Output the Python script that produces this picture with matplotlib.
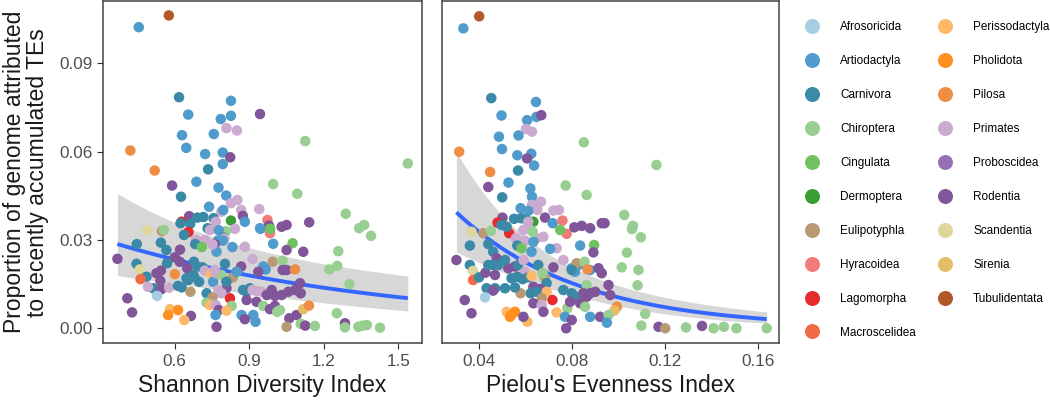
import numpy as np
import matplotlib
matplotlib.use("Agg")
import matplotlib.pyplot as plt
from matplotlib.lines import Line2D

plt.rcParams["font.family"]=["Liberation Sans","DejaVu Sans"]

ORDERS=["Afrosoricida","Artiodactyla","Carnivora","Chiroptera","Cingulata","Dermoptera","Eulipotyphla",
        "Hyracoidea","Lagomorpha","Macroscelidea","Perissodactyla","Pholidota","Pilosa","Primates",
        "Proboscidea","Rodentia","Scandentia","Sirenia","Tubulidentata"]
COLORS=["#A6CEE3","#4F9BCB","#3A89A6","#98CE91","#72C161","#3A9E34","#B89A72","#F27A7B","#E52B2C",
        "#F06A44","#FDB86A","#FF8F1E","#EE8E45","#CBABCF","#9670B4","#805599","#DFD69B","#E4BE66","#B15928"]
CMAP={o[:3]:c for o,c in zip(ORDERS,COLORS)}

# ---- left panel: Shannon diversity index vs proportion of genome (order = first 3 letters)
sh_x=[.455,.576,.617,.826,.654,.943,.785,.826,.808,.850,.629,.757,1.125,.421,.646,.722,.793,.823,1.538,.519,
      .793,.734,.589,.687,.996,.776,1.093,.625,.807,.852,.826,.738,.867,.940,.787,.795,.874,.658,.691,.715,
      .756,.826,.765,.627,.882,.662,.623,.945,.732,.742,.842,.806,.777,.490,.548,.556,.655,.637,.797,.800,
      .685,.721,.682,.447,.773,.793,.709,.882,.832,.621,.566,.761,.973,.979,.983,.984,.943,1.030,1.050,1.141,
      1.288,1.342,1.362,1.390,.544,.768,.752,1.074,.996,1.050,1.117,1.258,.600,.369,.913,.994,1.034,.446,.569,.620,
      .677,.690,.650,.802,.867,.956,.966,.936,1.034,1.050,1.084,1.222,1.254,1.303,.459,.526,.544,.600,.486,.462,
      .513,.492,.542,.546,.577,.613,.628,.647,.663,.678,.698,.712,.721,.745,.754,.768,.788,.833,.808,.775,
      .788,.728,.752,.822,.728,.741,.765,.829,.777,.808,.764,.875,.889,.902,.913,.929,.950,.889,.929,.970,
      .990,1.003,1.030,1.057,1.084,1.107,1.104,.956,.983,1.003,1.012,1.023,.869,.916,.925,.882,1.061,1.090,1.117,1.140,
      1.107,1.125,1.050,1.164,1.252,1.285,1.285,1.339,1.357,1.373,1.426,.768,.665,.638,.580,.573,.613,.428,.409,.529,
      .808,.849,.654,.674,.761]
sh_y=[.1023,.1063,.0785,.0773,.0726,.0728,.0711,.0722,.0680,.0672,.0656,.0660,.0636,.0604,.0613,.0592,.0597,.0581,.0560,.0536,
      .0558,.0540,.0485,.0498,.0490,.0478,.0457,.0447,.0451,.0436,.0425,.0413,.0402,.0405,.0396,.0402,.0382,.0381,.0376,.0378,
      .0374,.0366,.0362,.0362,.0362,.0355,.0357,.0338,.0340,.0334,.0338,.0330,.0333,.0333,.0330,.0334,.0327,.0317,.0308,.0305,
      .0300,.0300,.0286,.0286,.0298,.0298,.0276,.0277,.0276,.0267,.0266,.0286,.0368,.0349,.0323,.0338,.0340,.0345,.0351,.0360,
      .0389,.0340,.0351,.0314,.0291,.0260,.0285,.0289,.0287,.0266,.0260,.0262,.0241,.0236,.0235,.0226,.0230,.0219,.0221,.0226,
      .0226,.0210,.0204,.0219,.0210,.0210,.0200,.0192,.0198,.0198,.0200,.0200,.0212,.0150,.0200,.0187,.0196,.0184,.0175,.0167,
      .0136,.0141,.0161,.0133,.0138,.0144,.0139,.0170,.0124,.0175,.0158,.0207,.0196,.0185,.0158,.0187,.0181,.0173,.0136,.0130,
      .0119,.0119,.0105,.0102,.0087,.0079,.0079,.0076,.0062,.0060,.0045,.0130,.0124,.0136,.0130,.0127,.0124,.0096,.0090,.0113,
      .0130,.0110,.0113,.0124,.0130,.0119,.0153,.0076,.0065,.0076,.0056,.0062,.0045,.0045,.0022,.0031,.0034,.0045,.0065,.0077,
      .0015,.0009,.0005,.0008,.0051,.0017,.0003,.0005,.0009,.0011,.0002,.0005,.0042,.0028,.0065,.0045,.0062,.0054,.0102,.0110,
      .0158,.0192,.0164,.0181,.0198]
sh_o=("Art Tub Car Art Art Rod Art Art Pri Pri Art Art Chi Pil Art Art Art Rod Chi Pil "
      "Art Car Rod Art Chi Art Chi Car Art Pri Pri Art Pri Pri Pri Art Rod Rod Car Car "
      "Car Der Pri Lag Art Car Car Art Car Pri Pri Chi Art Sca Eul Chi Lag Car Car Pri "
      "Pri Pri Car Car Art Art Cin Pri Art Rod Car Rod Hyr Rod Hyr Cin Art Rod Rod Rod "
      "Chi Chi Chi Chi Car Art Pri Cin Art Rod Rod Chi Rod Rod Pri Eul Chi Car Car Rod "
      "Car Car Rod Car Rod Art Art Rod Rod Rod Pil Chi Chi Chi Sca Rod Rod Pil Car Mac "
      "Car Pri Rod Rod Pri Car Car Car Eul Car Car Car Pri Per Art Pri Chi Eul Rod Pri "
      "Pri Car Eul Lag Chi Per Pri Chi Rod Per Art Car Car Car Pri Pri Pri Rod Rod Rod "
      "Rod Rod Rod Rod Rod Rod Rod Chi Rod Rod Chi Chi Art Art Art Rod Rod Rod Sir Pil "
      "Chi Rod Eul Chi Chi Rod Chi Chi Chi Chi Chi Rod Rod Per Per Pho Pho Rod Rod Afr "
      "Car Art Car Car Pri").split()

# ---- right panel: Pielou's evenness index vs proportion of genome
pi_x=[.0332,.0400,.0452,.0644,.0496,.0606,.0646,.0667,.0601,.0627,.0485,.0569,.0850,.0314,.0498,.0564,.0624,.0606,.1162,.0636,
      .0567,.0447,.0439,.0526,.0772,.0620,.0862,.0499,.0627,.0627,.0666,.0650,.0719,.0743,.0578,.0611,.0683,.0500,.0550,.0580,
      .0604,.0479,.0529,.0633,.0611,.0621,.0590,.0716,.0758,.0776,.0748,.0809,.0841,.0877,.0927,.0496,.0518,.0367,.0417,.0450,
      .0558,.0597,.0647,.0676,.0633,.0625,.0564,.0630,.0360,.0439,.0582,.0733,.0705,.0834,.0894,.0891,.0302,.0460,.0475,.0360,
      .0374,.0374,.0399,.0427,.0468,.0439,.0460,.0482,.0525,.0554,.0511,.0568,.0590,.0597,.0539,.0564,.0587,.0611,.0654,.0625,
      .0676,.0683,.0673,.0719,.0690,.0633,.0662,.0647,.0621,.0690,.0578,.0669,.0715,.0633,.0669,.0676,.0733,.0779,.0769,.0798,
      .0774,.0468,.0511,.0554,.0432,.0460,.0425,.0338,.0367,.0518,.0539,.0554,.0532,.0607,.0590,.0762,.0798,.0819,.0791,.0834,
      .0798,.0812,.0827,.0877,.0819,.0853,.0865,.0913,.0927,.0862,.0848,.0877,.0899,.0862,.0855,.0877,.0920,.0762,.0939,.1024,
      .1061,.1057,.1095,.1035,.1013,.1085,.1081,.0956,.0963,.0992,.0981,.0956,.0949,.1114,.1097,.1171,.1200,.1289,.1358,.1408,
      .1452,.1506,.1636,.0798]
pi_y=[.1019,.1060,.0782,.0769,.0723,.0707,.0718,.0724,.0677,.0668,.0651,.0655,.0632,.0600,.0609,.0588,.0593,.0577,.0555,.0553,
      .0536,.0531,.0480,.0495,.0485,.0475,.0453,.0445,.0447,.0419,.0430,.0402,.0400,.0402,.0408,.0399,.0376,.0376,.0372,.0374,
      .0368,.0359,.0323,.0362,.0362,.0334,.0334,.0357,.0366,.0321,.0334,.0343,.0348,.0340,.0357,.0351,.0345,.0328,.0323,.0331,
      .0306,.0298,.0306,.0311,.0294,.0260,.0281,.0328,.0281,.0286,.0272,.0272,.0270,.0281,.0283,.0258,.0232,.0260,.0238,.0215,
      .0195,.0164,.0173,.0189,.0181,.0215,.0215,.0215,.0204,.0210,.0232,.0215,.0232,.0192,.0170,.0175,.0167,.0173,.0215,.0178,
      .0178,.0172,.0187,.0207,.0153,.0141,.0133,.0124,.0119,.0124,.0119,.0102,.0096,.0085,.0079,.0056,.0054,.0068,.0039,.0028,
      .0000,.0136,.0136,.0139,.0136,.0128,.0105,.0096,.0051,.0056,.0045,.0056,.0039,.0022,.0039,.0130,.0119,.0107,.0090,.0085,
      .0204,.0192,.0215,.0198,.0221,.0226,.0200,.0204,.0187,.0147,.0119,.0119,.0124,.0107,.0073,.0039,.0039,.0232,.0357,.0385,
      .0348,.0337,.0309,.0257,.0207,.0198,.0146,.0147,.0113,.0073,.0060,.0045,.0019,.0049,.0009,.0005,.0000,.0003,.0008,.0000,
      .0005,.0000,.0000,.0198]
pi_o=("Art Tub Car Art Art Art Art Rod Pri Pri Art Art Chi Pil Art Art Art Rod Chi Art "
      "Car Pil Rod Art Chi Art Chi Car Art Pri Pri Pri Pri Pri Art Art Rod Rod Car Car "
      "Car Lag Lag Der Pri Pri Pri Art Hyr Hyr Cin Rod Rod Rod Rod Car Car Sca Eul Chi "
      "Pri Pri Pri Pri Art Art Car Chi Car Car Cin Pri Art Art Cin Rod Rod Car Rod Car "
      "Sca Mac Car Rod Rod Car Car Car Rod Rod Car Car Pri Pri Car Car Car Car Car Per "
      "Per Eul Chi Rod Car Rod Rod Car Car Per Eul Eul Lag Rod Pri Rod Per Chi Art Rod "
      "Rod Car Car Car Car Rod Afr Rod Rod Per Pho Pho Pho Per Rod Car Car Car Rod Rod "
      "Art Art Art Art Eul Chi Pil Rod Rod Chi Rod Rod Rod Rod Chi Art Rod Pri Rod Chi "
      "Chi Chi Chi Chi Chi Chi Chi Rod Rod Pil Sir Chi Art Chi Chi Rod Eul Chi Rod Chi "
      "Chi Chi Chi Car").split()

# log-link smooth: (intercept, slope), band = (centre, half-width at centre, growth)
SH_FIT=(-3.229,-0.88); SH_BAND=(0.80,0.42,0.49)
PI_FIT=(-2.66,-19.0); PI_BAND=(0.080,0.30,5.9)

INK="#1A1A1A"; TICK="#4D4D4D"; FRAME="#444444"

fig=plt.figure(figsize=(10.5,4.01),dpi=100)
axL=fig.add_axes([0.0981,0.1439,0.3038,0.8536])
axR=fig.add_axes([0.4207,0.1439,0.3212,0.8536])

def panel(ax,x,y,o,fit,band,xlim,xticks,xlabels,xtitle):
    xs=np.linspace(min(x),max(x),200)
    eta=fit[0]+fit[1]*xs
    hw=np.sqrt(band[1]**2+(band[2]*(xs-band[0]))**2)
    ax.fill_between(xs,np.exp(eta-hw),np.exp(eta+hw),color="#D7D7D7",lw=0,zorder=1)
    ax.plot(xs,np.exp(eta),color="#3366FF",lw=2.8,zorder=2,solid_capstyle="butt")
    ax.scatter(x,y,c=[CMAP[k] for k in o],s=57,lw=0,zorder=3)
    ax.set_xlim(*xlim); ax.set_ylim(-0.0051,0.1112)
    ax.set_xticks(xticks); ax.set_xticklabels(xlabels)
    ax.set_xlabel(xtitle,fontsize=16.5,color=INK,labelpad=4)
    ax.tick_params(direction="out",length=4.5,width=0.8,color="#333333",labelsize=12.3,labelcolor=TICK,pad=3)
    for s in ax.spines.values():
        s.set_color(FRAME); s.set_linewidth(1.1)

panel(axL,sh_x,sh_y,sh_o,SH_FIT,SH_BAND,(0.311,1.595),[0.6,0.9,1.2,1.5],["0.6","0.9","1.2","1.5"],"Shannon Diversity Index")
panel(axR,pi_x,pi_y,pi_o,PI_FIT,PI_BAND,(0.0239,0.1689),[0.04,0.08,0.12,0.16],["0.04","0.08","0.12","0.16"],"Pielou's Evenness Index")
axL.set_yticks([0,0.03,0.06,0.09]); axL.set_yticklabels(["0.00","0.03","0.06","0.09"])
axL.set_ylabel("Proportion of genome attributed\nto recently accumulated TEs",fontsize=16.5,color=INK,linespacing=1.0,labelpad=7)
axR.tick_params(left=False,labelleft=False)

handles=[Line2D([],[],marker="o",ls="",markersize=10.8,markerfacecolor=c,markeredgewidth=0) for c in COLORS]
fig.legend(handles,ORDERS,ncol=2,loc="upper left",bbox_to_anchor=(800/1050,1-21/401),frameon=False,fontsize=8.5,
           labelspacing=1.86,handletextpad=1.4,columnspacing=1.45,borderpad=0,borderaxespad=0,handlelength=2.0)

fig.savefig("out.png",dpi=100,facecolor="white")
